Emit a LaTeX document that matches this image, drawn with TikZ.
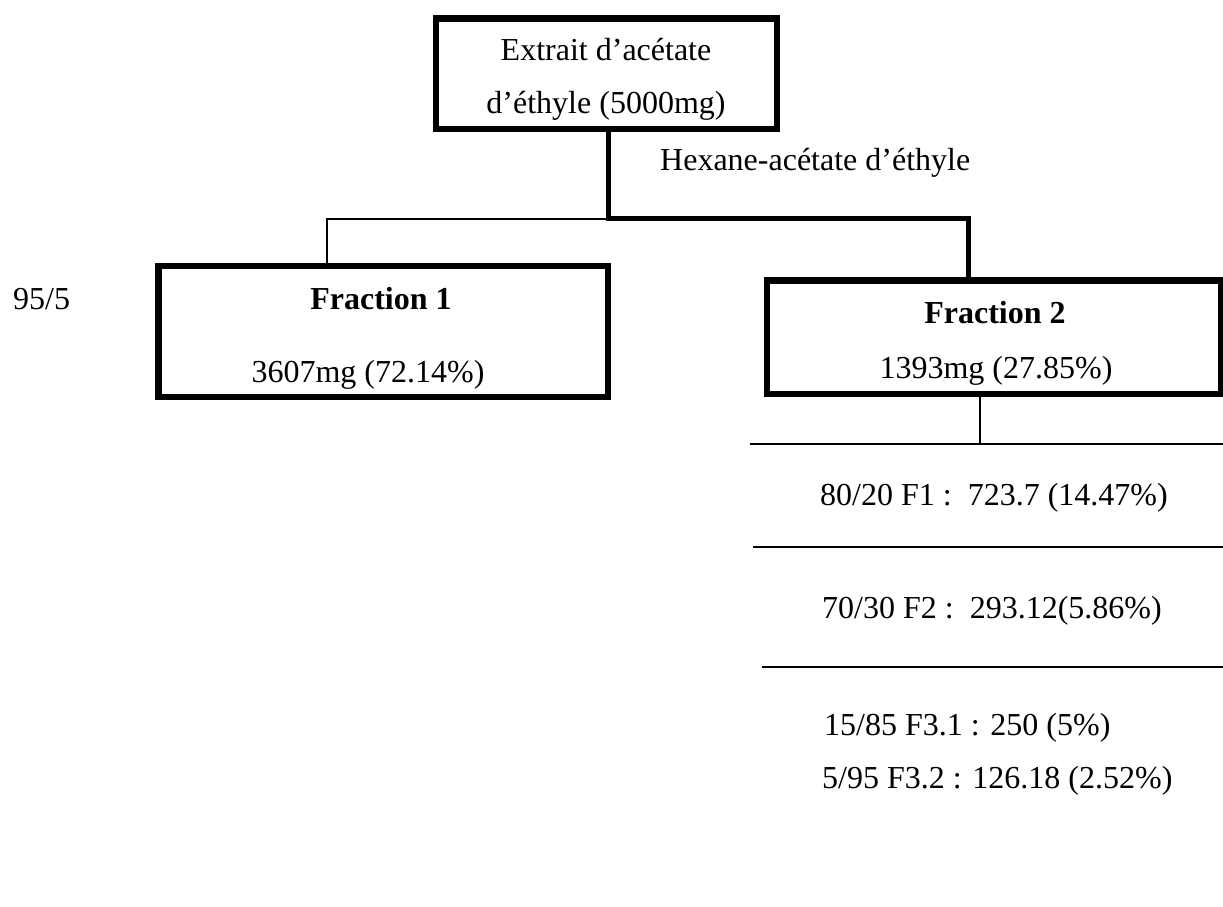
\documentclass[tikz,border=0pt]{standalone}
\usepackage{fontspec}
\setmainfont{Liberation Serif}
\begin{document}
\begin{tikzpicture}[x=1pt,y=-1pt,
  box/.style={draw,line width=6.5pt,inner sep=0pt},
  heavyline/.style={line width=5pt},
  thinline/.style={line width=2pt},
  txt/.style={anchor=base,inner sep=0pt,font=\fontsize{32}{37}\selectfont},
  txtl/.style={txt,anchor=base west}]
\fill[white] (0,0) rectangle (1223,907);
\useasboundingbox (0,0) rectangle (1223,907);
% boxes
\node[box,minimum width=341pt,minimum height=110.5pt] (top) at (606.5,73.75) {};
\node[box,minimum width=449.5pt,minimum height=131pt] (f1) at (383.25,331.5) {};
\node[box,minimum width=454pt,minimum height=113.5pt] (f2) at (994,337.25) {};
% texts
\node[txt] (t1) at (606,60) {Extrait d’acétate};
\node[txt] (t2) at (606,113) {d’éthyle (5000mg)};
\node[txtl] (hex) at (660,170) {Hexane-acétate d’éthyle};
\node[txtl] (r95) at (13,309) {95/5};
\node[txt] (f1a) at (381,309) {\bfseries Fraction 1};
\node[txt] (f1b) at (368,382) {3607mg (72.14\%)};
\node[txt] (f2a) at (995,323) {\bfseries Fraction 2};
\node[txt] (f2b) at (996,378) {1393mg (27.85\%)};
\node[txtl] (s1) at (820,505) {80/20 F1 :\ \ 723.7 (14.47\%)};
\node[txtl] (s2) at (822,618) {70/30 F2 :\ \ 293.12(5.86\%)};
\node[txtl] (s3) at (824,735) {15/85 F3.1 : 250 (5\%)};
\node[txtl] (s4) at (822,788) {5/95 F3.2 : 126.18 (2.52\%)};
% connectors
\coordinate (j) at (608,218.5);
\coordinate (k) at (968.5,218.5);
\coordinate (m) at (327,218.5);
\draw[heavyline] (top.south -| j) -- (j) -- (k) -- (k |- f2.north);
\draw[thinline] (j) -- (m) -- (m |- f1.north);
\coordinate (n) at (980,444);
\draw[thinline] ([yshift=6pt]f2.south -| n) -- (n);
\coordinate (l1a) at (750,444);
\coordinate (l1b) at (1223,444);
\coordinate (l2a) at (753,547);
\coordinate (l2b) at (1223,547);
\coordinate (l3a) at (762,667);
\coordinate (l3b) at (1223,667);
\draw[thinline] (l1a) -- (l1b);
\draw[thinline] (l2a) -- (l2b);
\draw[thinline] (l3a) -- (l3b);
\end{tikzpicture}
\end{document}
